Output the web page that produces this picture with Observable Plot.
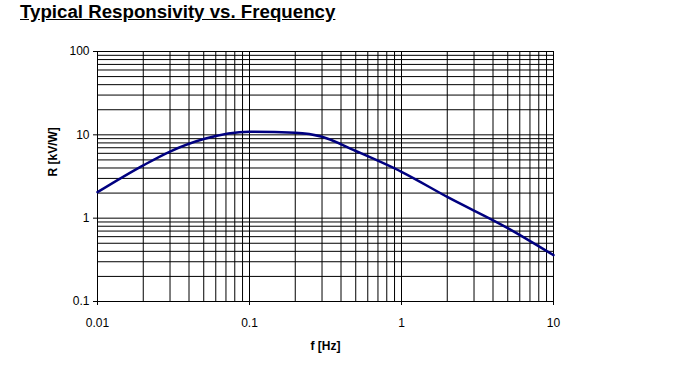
<!DOCTYPE html>
<html><head><meta charset="utf-8">
<script src="https://cdn.jsdelivr.net/npm/d3@7"></script>
<script src="https://cdn.jsdelivr.net/npm/@observablehq/plot@0.6"></script>
<style>
body{margin:0;background:#fff;}
#wrap{position:relative;width:686px;height:383px;}
#title{position:absolute;left:20px;top:1px;font:bold 18.7px "Liberation Sans",Arial,sans-serif;text-decoration:underline;color:#000;z-index:2;}
</style></head>
<body><div id="wrap"><div id="title">Typical Responsivity vs. Frequency</div></div>
<script>
const freq = [0.01, 0.02, 0.03, 0.05, 0.1, 0.2, 0.3, 0.5, 1, 2, 5, 10];
const resp = [2.05, 4.3, 6.3, 8.9, 10.9, 10.6, 9.5, 6.4, 3.6, 1.8, 0.76, 0.36];
const xTicks = [0.01, 0.1, 1, 10];
const yTicks = [0.1, 1, 10, 100];
const xGrid = [0.01,0.02,0.03,0.04,0.05,0.06,0.07,0.08,0.09,0.1,0.2,0.3,0.4,0.5,0.6,0.7,0.8,0.9,1,2,3,4,5,6,7,8,9,10];
const yGrid = [0.1,0.2,0.3,0.4,0.5,0.6,0.7,0.8,0.9,1,2,3,4,5,6,7,8,9,10,20,30,40,50,60,70,80,90,100];
const data = freq.map((f,i)=>({f, r: resp[i]}));

const chart = Plot.plot({
  width: 686, height: 383,
  marginLeft: 97, marginRight: 133, marginTop: 51, marginBottom: 82,
  style: {fontFamily: '"Liberation Sans", Arial, sans-serif', fontSize: "12px", color: "#000", background: "#fff"},
  x: {type: "log", domain: [0.01, 10], label: null},
  y: {type: "log", domain: [0.1, 100], label: null},
  marks: [
    Plot.ruleX(xGrid, {stroke: "#000", strokeWidth: 1}),
    Plot.ruleY(yGrid, {stroke: "#000", strokeWidth: 1}),
    Plot.axisX({ticks: xTicks, tickFormat: d => String(d), tickSize: 4, tickPadding: 13, fontSize: 12, label: null}),
    Plot.axisY({ticks: yTicks, tickFormat: d => String(d), tickSize: 4, tickPadding: 4, fontSize: 12, label: null}),
    Plot.line(data, {x: "f", y: "r", stroke: "#000080", strokeWidth: 2.5, curve: "monotone-x"}),
    Plot.text(["f [Hz]"], {frameAnchor: "bottom", dy: 48, fontWeight: "bold", fontSize: 12}),
    Plot.text(["R [kV/W]"], {frameAnchor: "left", dx: -44, rotate: -90, fontWeight: "bold", fontSize: 12})
  ]
});
document.getElementById("wrap").prepend(chart);
chart.style.position = "absolute"; chart.style.left = "0"; chart.style.top = "0";
</script>
</body></html>
